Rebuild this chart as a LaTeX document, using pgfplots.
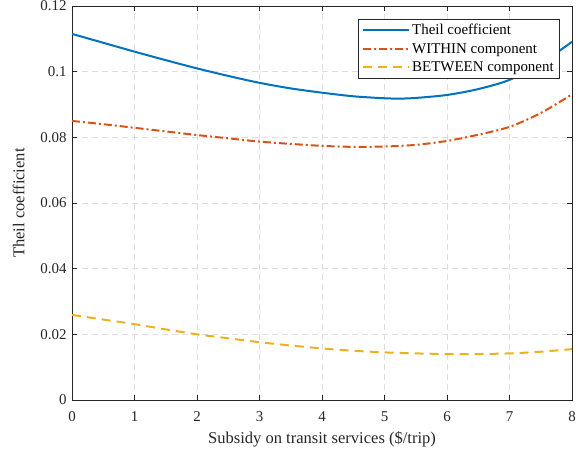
\documentclass[border=0pt]{standalone}
\usepackage{fontspec}
\setmainfont{Liberation Serif}
\usepackage{pgfplots}
\pgfplotsset{compat=1.18}

\definecolor{mblue}{rgb}{0,0.447,0.741}
\definecolor{morange}{rgb}{0.85,0.325,0.098}
\definecolor{myellow}{rgb}{0.929,0.694,0.125}
\definecolor{axgray}{rgb}{0.15,0.15,0.15}
\definecolor{gridgray}{rgb}{0.87,0.87,0.87}

\begin{document}
\begin{tikzpicture}
\useasboundingbox (-72bp,-53bp) rectangle (511bp,400bp);
\begin{axis}[
  scale only axis,
  width=500bp, height=394bp,
  anchor=south west, at={(0,0)},
  xmin=0, xmax=8, ymin=0, ymax=0.12,
  xtick={0,1,...,8},
  ytick={0,0.02,0.04,0.06,0.08,0.1,0.12},
  yticklabel style={/pgf/number format/fixed, /pgf/number format/precision=2, xshift=-2bp},
  xticklabel style={yshift=-8bp},
  /pgf/number format/assume math mode=true,
  tick align=inside,
  major tick length=5bp,
  tick style={axgray, line width=0.6pt},
  axis line style={axgray, line width=0.6pt},
  ticklabel style={font=\fontsize{15}{16}\selectfont, text=axgray},
  xmajorgrids, ymajorgrids,
  grid style={gridgray, dash pattern=on 6bp off 4bp, line width=0.6pt},
  xlabel={Subsidy on transit services (\$/trip)},
  ylabel={Theil coefficient},
  label style={font=\fontsize{16.6}{19}\selectfont, text=axgray},
  xlabel style={yshift=-3bp},
  ylabel style={yshift=9bp},
  legend style={
    at={(0.976,0.967)}, anchor=north east,
    draw=axgray, line width=0.6pt, fill=white,
    font=\fontsize{15}{16}\selectfont,
    row sep=3bp, inner xsep=4bp, inner ysep=3bp,
    cells={anchor=west},
  },
  legend image code/.code={
    \draw[#1] (0bp,0bp) -- (46bp,0bp);
  },
]
% total Theil index
\addplot[mblue, line width=2pt, smooth] coordinates {
  (0,0.1115) (0.5,0.1088) (1,0.1061) (1.5,0.1035) (2,0.1010)
  (2.5,0.0987) (3,0.0966) (3.5,0.0949) (4,0.0936) (4.5,0.0925)
  (5,0.0919) (5.25,0.0918) (5.5,0.0920) (6,0.0929) (6.5,0.0947)
  (7,0.0975) (7.5,0.1025) (8,0.1091)
};
\addlegendentry{Theil coefficient}
% within-group component
\addplot[morange, line width=2pt, smooth,
  dash pattern=on 8bp off 3bp on 2bp off 3bp] coordinates {
  (0,0.0850) (0.5,0.0840) (1,0.0829) (1.5,0.0818) (2,0.0807)
  (2.5,0.0797) (3,0.0787) (3.5,0.0780) (4,0.0774) (4.5,0.0771)
  (5,0.0772) (5.5,0.0777) (6,0.0789) (6.5,0.0808) (7,0.0832)
  (7.5,0.0874) (8,0.0931)
};
\addlegendentry{WITHIN component}
% between-group component
\addplot[myellow, line width=2pt, smooth,
  dash pattern=on 9bp off 6bp] coordinates {
  (0,0.0259) (0.5,0.0245) (1,0.0231) (1.5,0.0215) (2,0.0200)
  (2.5,0.0188) (3,0.0176) (3.5,0.0166) (4,0.0157) (4.5,0.0150)
  (5,0.0145) (5.5,0.0142) (6,0.0140) (6.5,0.0140) (7,0.0142)
  (7.5,0.0147) (8,0.0155)
};
\addlegendentry{BETWEEN component}
\end{axis}
\end{tikzpicture}
\end{document}
